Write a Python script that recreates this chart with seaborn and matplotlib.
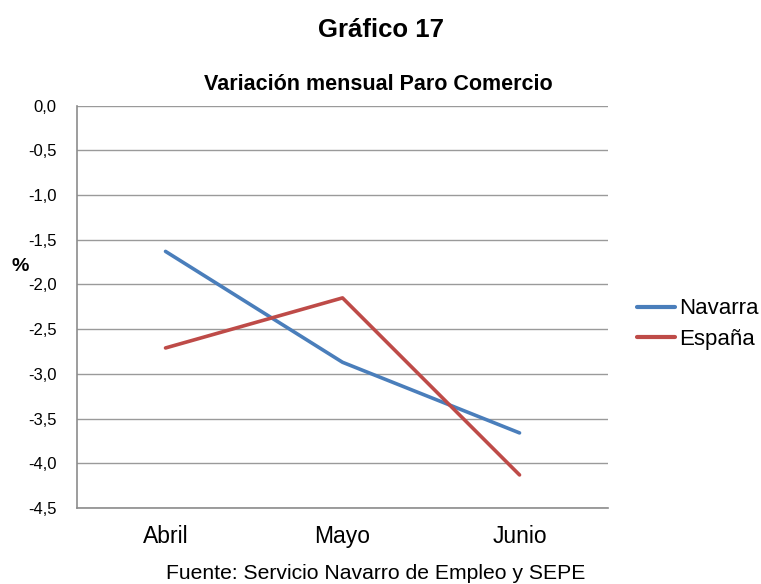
import numpy as np
import pandas as pd
import matplotlib
matplotlib.use("Agg")
import matplotlib.pyplot as plt
import seaborn as sns

# Data
meses = ["Abril", "Mayo", "Junio"]
navarra = [-1.63, -2.87, -3.66]
espana = [-2.71, -2.15, -4.13]
yticks = [0.0, -0.5, -1.0, -1.5, -2.0, -2.5, -3.0, -3.5, -4.0, -4.5]

df = pd.DataFrame({
    "mes": meses * 2,
    "valor": navarra + espana,
    "serie": ["Navarra"] * 3 + ["España"] * 3,
})

sns.set_style("white")
plt.rcParams["font.family"] = ["Liberation Sans", "DejaVu Sans"]
plt.rcParams["text.color"] = "black"
plt.rcParams["xtick.color"] = "black"
plt.rcParams["ytick.color"] = "black"

fig = plt.figure(figsize=(7.61, 5.84), dpi=100)
ax = fig.add_axes([0.1012, 0.1301, 0.6978, 0.689])

palette = {"Navarra": "#4a7ebb", "España": "#be4b48"}
sns.lineplot(data=df, x="mes", y="valor", hue="serie", palette=palette,
             linewidth=2.6, ax=ax, sort=False)

ax.set_xlim(-0.5, 2.5)
ax.set_ylim(-4.5, 0.0)
ax.set_yticks(yticks)
ax.set_yticklabels([f"{v:.1f}".replace(".", ",") for v in yticks], fontsize=12)
ax.tick_params(axis="x", labelsize=16.5, length=0, pad=12.5)
ax.tick_params(axis="y", length=0, pad=14.5)
ax.yaxis.grid(True, color="#9a9a9a", linewidth=1.0)
ax.set_axisbelow(True)
for s in ["top", "right"]:
    ax.spines[s].set_visible(False)
for s in ["left", "bottom"]:
    ax.spines[s].set_color("#8c8c8c")
    ax.spines[s].set_linewidth(1.2)
ax.set_xlabel("")
ax.set_ylabel("")

fig.text(0.027, 0.543, "%", fontsize=14, fontweight="bold", ha="center", va="center")

leg = ax.legend(loc="center left", bbox_to_anchor=(0.837, 0.445),
                bbox_transform=fig.transFigure, frameon=False,
                borderaxespad=0, borderpad=0,
                fontsize=16, handlelength=1.7, handletextpad=0.22, labelspacing=0.42)
for line in leg.get_lines():
    line.set_linewidth(3)

fig.text(0.5, 0.937, "Gráfico 17", fontsize=18.5, fontweight="bold", ha="center", va="baseline")
fig.text(0.497, 0.846, "Variación mensual Paro Comercio", fontsize=15.5, fontweight="bold",
         ha="center", va="baseline")
fig.text(0.494, 0.008, "Fuente: Servicio Navarro de Empleo y SEPE", fontsize=15.2,
         ha="center", va="baseline")

fig.savefig("out.png", dpi=100)
